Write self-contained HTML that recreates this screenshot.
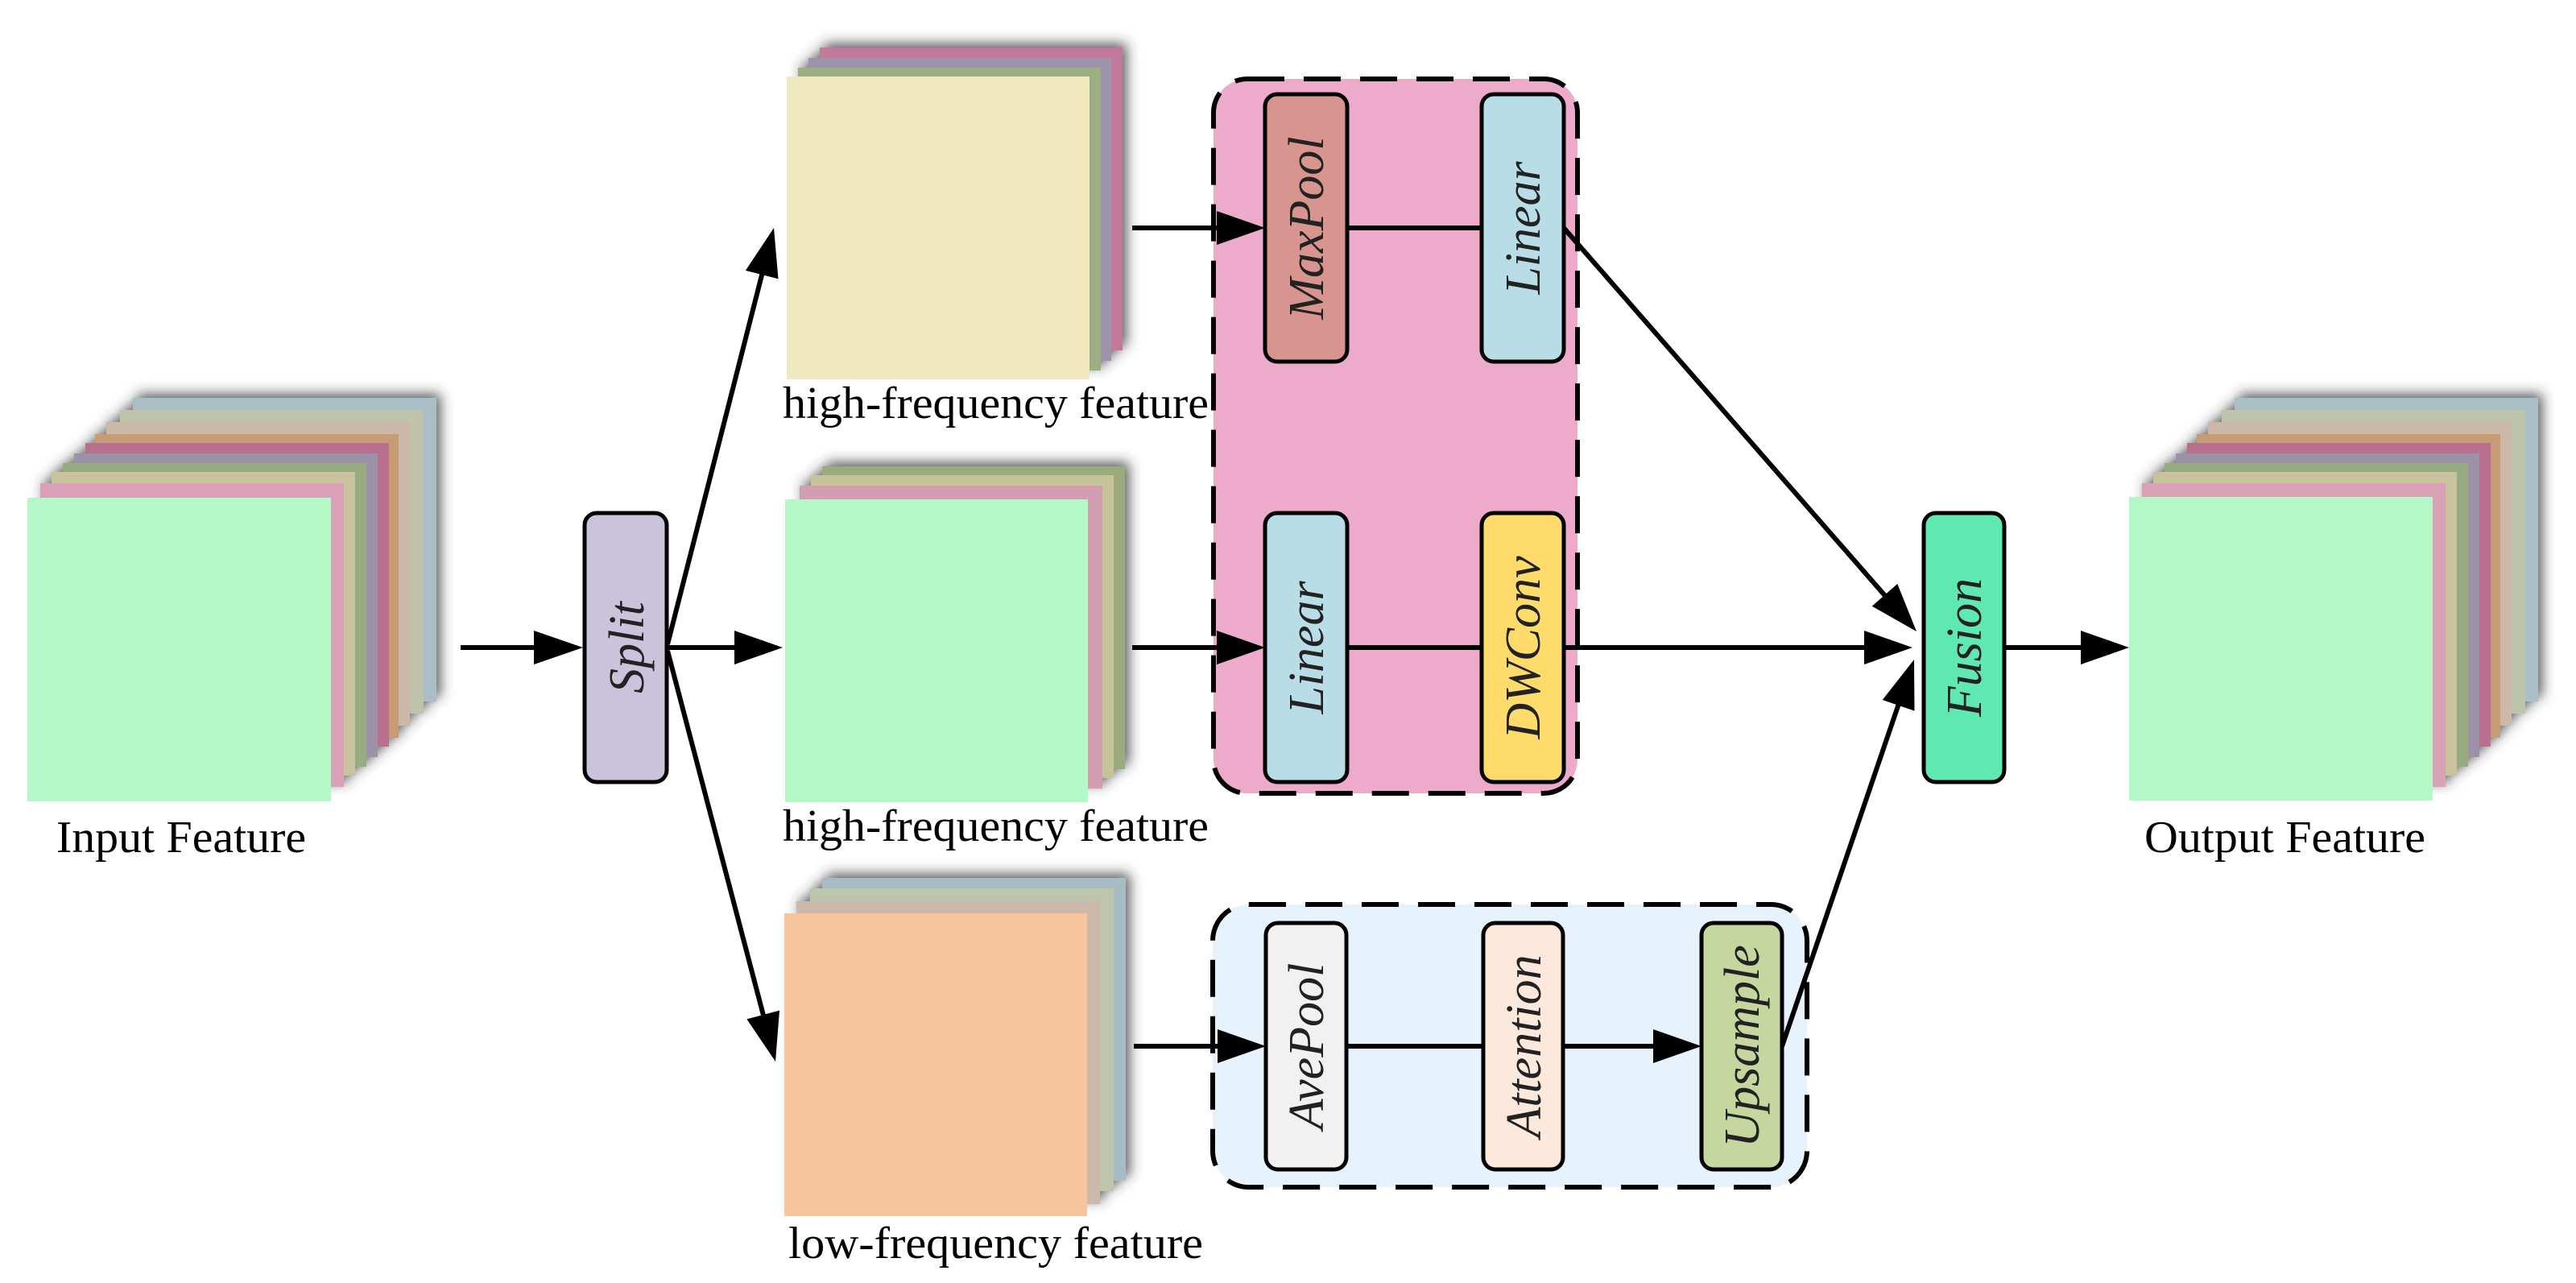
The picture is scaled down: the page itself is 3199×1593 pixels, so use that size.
<!DOCTYPE html>
<html><head><meta charset="utf-8"><style>html,body{margin:0;padding:0;background:#fff}svg{display:block}</style></head>
<body>
<svg width="3199" height="1593" viewBox="0 0 3199 1593" xmlns="http://www.w3.org/2000/svg">
<defs>
<filter id="sh" x="-20%" y="-20%" width="140%" height="140%">
<feDropShadow dx="5" dy="-5" stdDeviation="8" flood-color="#333" flood-opacity="0.8"/>
</filter>
</defs>
<g filter="url(#sh)">
<rect x="165" y="494" width="377" height="377" fill="#a9bec6"/>
<rect x="149" y="509" width="377" height="377" fill="#bec3ab"/>
<rect x="132" y="524" width="377" height="377" fill="#cbb8a8"/>
<rect x="118" y="539" width="377" height="377" fill="#c79b73"/>
<rect x="106" y="550" width="377" height="377" fill="#b9708e"/>
<rect x="92" y="563" width="377" height="377" fill="#9b92a8"/>
<rect x="78" y="575" width="377" height="377" fill="#98aa80"/>
<rect x="64" y="586" width="377" height="377" fill="#c8c39c"/>
<rect x="50" y="600" width="377" height="377" fill="#d9a1b6"/>
</g>
<rect x="34" y="618" width="377" height="377" fill="#b4f8c8"/>
<g filter="url(#sh)">
<rect x="2775" y="494" width="377" height="377" fill="#a9bec6"/>
<rect x="2759" y="509" width="377" height="377" fill="#bec3ab"/>
<rect x="2742" y="524" width="377" height="377" fill="#cbb8a8"/>
<rect x="2728" y="539" width="377" height="377" fill="#c79b73"/>
<rect x="2716" y="550" width="377" height="377" fill="#b9708e"/>
<rect x="2702" y="563" width="377" height="377" fill="#9b92a8"/>
<rect x="2688" y="575" width="377" height="377" fill="#98aa80"/>
<rect x="2674" y="586" width="377" height="377" fill="#c8c39c"/>
<rect x="2660" y="600" width="377" height="377" fill="#d9a1b6"/>
</g>
<rect x="2644" y="617" width="377" height="377" fill="#b4f8c8"/>
<g filter="url(#sh)">
<rect x="1018" y="59" width="376" height="376" fill="#c27a9a"/>
<rect x="1004" y="72" width="376" height="376" fill="#9d93aa"/>
<rect x="991" y="84" width="376" height="376" fill="#9caf82"/>
</g>
<rect x="977" y="95" width="376" height="376" fill="#f0e8bf"/>
<g filter="url(#sh)">
<rect x="1021" y="579" width="376" height="376" fill="#9aab7e"/>
<rect x="1007" y="590" width="376" height="376" fill="#c6c39a"/>
<rect x="993" y="603" width="376" height="376" fill="#d29fb2"/>
</g>
<rect x="975" y="620" width="376" height="376" fill="#b4f8c8"/>
<g filter="url(#sh)">
<rect x="1021" y="1090" width="377" height="376" fill="#a7bcc4"/>
<rect x="1006" y="1103" width="377" height="376" fill="#bdc5ad"/>
<rect x="989" y="1119" width="377" height="376" fill="#cdb9a9"/>
</g>
<rect x="974" y="1134" width="376" height="376" fill="#f7c49b"/>

<rect x="1507" y="98" width="452" height="887" rx="42" fill="#eeaacb" stroke="#000" stroke-width="6" stroke-dasharray="46 24"/>
<rect x="1506" y="1123" width="738" height="351" rx="45" fill="#e6f3fd" stroke="#000" stroke-width="6" stroke-dasharray="46 24"/>

<g stroke="#000" stroke-width="6" fill="none">
<line x1="572" y1="804" x2="670" y2="804"/>
<line x1="829" y1="800" x2="950" y2="326"/>
<line x1="829" y1="804" x2="920" y2="804"/>
<line x1="829" y1="808" x2="951" y2="1272"/>
<line x1="1406" y1="283" x2="1520" y2="283"/>
<line x1="1406" y1="804" x2="1520" y2="804"/>
<line x1="1408" y1="1299" x2="1520" y2="1299"/>
<line x1="1673" y1="283" x2="1840" y2="283"/>
<line x1="1673" y1="804" x2="1840" y2="804"/>
<line x1="1672" y1="1299" x2="1842" y2="1299"/>
<line x1="1941" y1="1299" x2="2060" y2="1299"/>
<line x1="1942" y1="283" x2="2350" y2="750"/>
<line x1="1942" y1="804" x2="2320" y2="804"/>
<line x1="2213" y1="1299" x2="2362" y2="862"/>
<line x1="2489" y1="804" x2="2590" y2="804"/>
</g>
<g fill="#000">
<polygon points="724,804 663,783 663,825"/>
<polygon points="961,283 966.5,346.3 925.9,335.9"/>
<polygon points="972,804 912,783 912,825"/>
<polygon points="963,1318 927.4,1265.4 968,1254.6"/>
<polygon points="1571,283 1511,262 1511,304"/>
<polygon points="1571,804 1511,783 1511,825"/>
<polygon points="1572,1299 1512,1278 1512,1320"/>
<polygon points="2113,1299 2053,1278 2053,1320"/>
<polygon points="2380,784 2324.7,752.6 2356.3,725"/>
<polygon points="2375,804 2315,783 2315,825"/>
<polygon points="2377,819 2377.5,882.6 2337.7,869"/>
<polygon points="2644,804 2584,783 2584,825"/>
</g>

<g stroke="#000" stroke-width="5">
<rect x="726" y="637" width="102" height="334" rx="15" fill="#cbc3dc"/>
<rect x="1571" y="117" width="102" height="332" rx="15" fill="#d8958f"/>
<rect x="1840" y="117" width="102" height="332" rx="15" fill="#b8dde7"/>
<rect x="1571" y="637" width="102" height="334" rx="15" fill="#b8dde7"/>
<rect x="1840" y="637" width="102" height="334" rx="15" fill="#fedb6a"/>
<rect x="1572" y="1146" width="100" height="306" rx="15" fill="#f1f1f1"/>
<rect x="1842" y="1146" width="99" height="306" rx="15" fill="#fce9dc"/>
<rect x="2113" y="1146" width="100" height="306" rx="15" fill="#c5d69f"/>
<rect x="2389" y="637" width="100" height="334" rx="15" fill="#5fe8b2"/>
</g>
<g font-family="'Liberation Serif', serif" font-style="italic" font-size="62" fill="#222" text-anchor="middle">
<text transform="translate(799,804) rotate(-90)">Split</text>
<text transform="translate(1643,283) rotate(-90)">MaxPool</text>
<text transform="translate(1912,283) rotate(-90)">Linear</text>
<text transform="translate(1643,804) rotate(-90)">Linear</text>
<text transform="translate(1912,804) rotate(-90)">DWConv</text>
<text transform="translate(1643,1299) rotate(-90)">AvePool</text>
<text transform="translate(1913,1299) rotate(-90)">Attention</text>
<text transform="translate(2184,1299) rotate(-90)">Upsample</text>
<text transform="translate(2460,804) rotate(-90)">Fusion</text>
</g>
<g font-family="'Liberation Serif', serif" font-size="56" fill="#000">
<text x="70" y="1058" textLength="310" lengthAdjust="spacingAndGlyphs">Input Feature</text>
<text x="972" y="519" textLength="529" lengthAdjust="spacingAndGlyphs">high-frequency feature</text>
<text x="972" y="1044" textLength="529" lengthAdjust="spacingAndGlyphs">high-frequency feature</text>
<text x="979" y="1562" textLength="515" lengthAdjust="spacingAndGlyphs">low-frequency feature</text>
<text x="2663" y="1058" textLength="349" lengthAdjust="spacingAndGlyphs">Output Feature</text>
</g>
</svg>
</body></html>
